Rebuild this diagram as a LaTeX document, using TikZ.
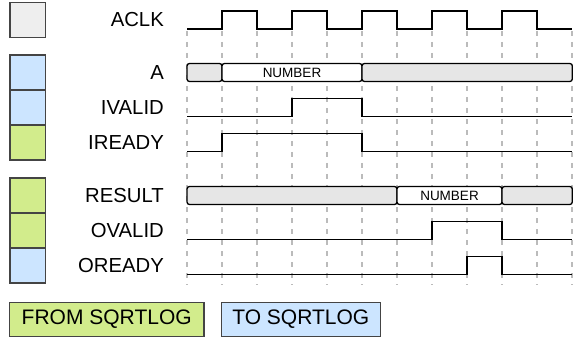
\documentclass[tikz,border=0pt]{standalone}
\usepackage{fontspec}
\setmainfont{Liberation Sans}
\definecolor{clkgray}{HTML}{EEEEEE}
\definecolor{tobl}{HTML}{CCE5FF}
\definecolor{fromgr}{HTML}{D2EC8C}
\definecolor{busgray}{HTML}{E6E6E6}
\definecolor{gridgray}{HTML}{BBBBBB}
\definecolor{boxedge}{HTML}{444444}
\begin{document}
\begin{tikzpicture}[x=1pt,y=-1pt,
  keybox/.style={draw=boxedge,line width=1.1pt},
  lbl/.style={anchor=east,font=\fontsize{20.3}{22}\selectfont,inner sep=0pt},
  legend/.style={draw=boxedge,line width=1.1pt,minimum height=34.5pt,inner sep=0pt,font=\fontsize{21}{23}\selectfont},
  grid/.style={draw=gridgray,line width=1.1pt,dash pattern=on 5pt off 6pt},
  sig/.style={draw=black,line width=1.4pt},
  bus/.style={draw=black,line width=1.3pt,rounded corners=2.5pt},
  numtxt/.style={font=\fontsize{13.5}{15}\selectfont,inner sep=0pt}]
\useasboundingbox (0,0) rectangle (573,342);
% key boxes
\draw[keybox,fill=clkgray] (10,2.5) rectangle (45.5,37.5);
\draw[keybox,fill=tobl] (10,55) rectangle (45.5,90);
\draw[keybox,fill=tobl] (10,90) rectangle (45.5,125);
\draw[keybox,fill=fromgr] (10,125) rectangle (45.5,160);
\draw[keybox,fill=fromgr] (10,178) rectangle (45.5,213);
\draw[keybox,fill=fromgr] (10,213) rectangle (45.5,248);
\draw[keybox,fill=tobl] (10,248) rectangle (45.5,283);
% labels
\node[lbl] (laclk) at (164,20) {ACLK};
\node[lbl] (la) at (164,72.5) {A};
\node[lbl] (livalid) at (164,107.5) {IVALID};
\node[lbl] (liready) at (164,142.5) {IREADY};
\node[lbl] (lresult) at (164,195.5) {RESULT};
\node[lbl] (lovalid) at (164,230.5) {OVALID};
\node[lbl] (loready) at (164,265.5) {OREADY};
% grid
\foreach \k in {0,...,11} {
  \draw[grid] ({187+35*\k},31) -- ({187+35*\k},285);
}
% clock
\draw[sig] (187,29) -- (222,29) -- (222,11) -- (257,11) -- (257,29) -- (292,29) -- (292,11) -- (327,11) -- (327,29) -- (362,29) -- (362,11) -- (397,11) -- (397,29) -- (432,29) -- (432,11) -- (467,11) -- (467,29) -- (502,29) -- (502,11) -- (537,11) -- (537,29) -- (572,29);
% A bus
\draw[bus,fill=busgray] (187,63.5) rectangle (222,81.5);
\draw[bus,fill=white] (222,63.5) rectangle (362,81.5);
\draw[bus,fill=busgray] (362,63.5) rectangle (572.3,81.5);
\node[numtxt] (anum) at (292,72.5) {NUMBER};
% IVALID
\draw[sig] (187,116.5) -- (292,116.5) -- (292,98.5) -- (362,98.5) -- (362,116.5) -- (572,116.5);
% IREADY
\draw[sig] (187,151.5) -- (222,151.5) -- (222,133.5) -- (362,133.5) -- (362,151.5) -- (572,151.5);
% RESULT bus
\draw[bus,fill=busgray] (187,186.5) rectangle (397,204.5);
\draw[bus,fill=white] (397,186.5) rectangle (502,204.5);
\draw[bus,fill=busgray] (502,186.5) rectangle (572.3,204.5);
\node[numtxt] (rnum) at (449.5,195.5) {NUMBER};
% OVALID
\draw[sig] (187,239.5) -- (432,239.5) -- (432,221.5) -- (502,221.5) -- (502,239.5) -- (572,239.5);
% OREADY
\draw[sig] (187,274.5) -- (467,274.5) -- (467,256.5) -- (502,256.5) -- (502,274.5) -- (572,274.5);
% legend
\node[legend,fill=fromgr,minimum width=194.5pt] (lgfrom) at (106.7,319.5) {FROM SQRTLOG};
\node[legend,fill=tobl,minimum width=159.5pt] (lgto) at (300.8,319.5) {TO SQRTLOG};
\end{tikzpicture}
\end{document}
